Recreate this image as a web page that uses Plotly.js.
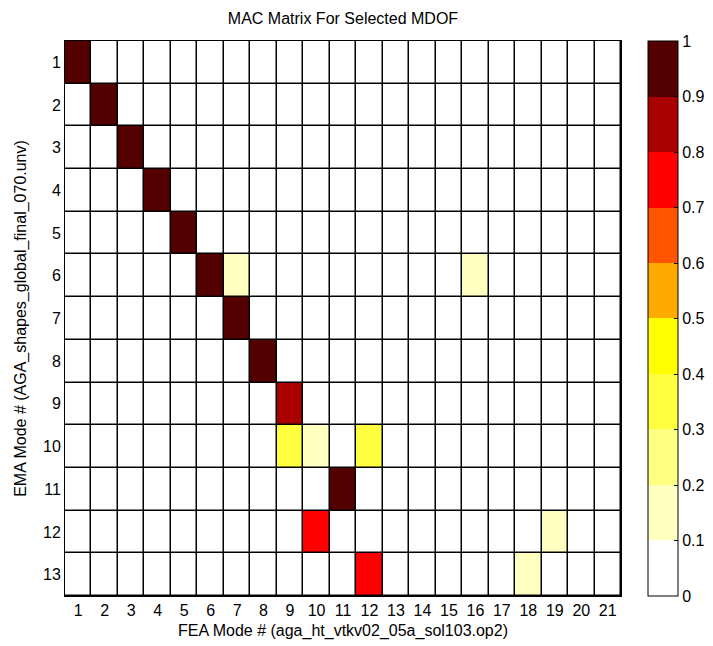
<!DOCTYPE html>
<html>
<head>
<meta charset="utf-8">
<script src="https://cdn.plot.ly/plotly-3.0.1.min.js"></script>
<style>html,body{margin:0;padding:0;background:#fff;}#chart{width:713px;height:646px;}</style>
</head>
<body>
<div id="chart"></div>
<script>
// FEA mode numbers (columns) and EMA mode numbers (rows)
const feaModes = [1,2,3,4,5,6,7,8,9,10,11,12,13,14,15,16,17,18,19,20,21];
const emaModes = [1,2,3,4,5,6,7,8,9,10,11,12,13];

// MAC values, one row per EMA mode, one column per FEA mode
const mac01 = [0.98,0,0,0,0,0,0,0,0,0,0,0,0,0,0,0,0,0,0,0,0];
const mac02 = [0,0.97,0,0,0,0,0,0,0,0,0,0,0,0,0,0,0,0,0,0,0];
const mac03 = [0,0,0.96,0,0,0,0,0,0,0,0,0,0,0,0,0,0,0,0,0,0];
const mac04 = [0,0,0,0.97,0,0,0,0,0,0,0,0,0,0,0,0,0,0,0,0,0];
const mac05 = [0,0,0,0,0.96,0,0,0,0,0,0,0,0,0,0,0,0,0,0,0,0];
const mac06 = [0,0,0,0,0,0.95,0.15,0,0,0,0,0,0,0,0,0.14,0,0,0,0,0];
const mac07 = [0,0,0,0,0,0,0.94,0,0,0,0,0,0,0,0,0,0,0,0,0,0];
const mac08 = [0,0,0,0,0,0,0,0.95,0,0,0,0,0,0,0,0,0,0,0,0,0];
const mac09 = [0,0,0,0,0,0,0,0,0.86,0,0,0,0,0,0,0,0,0,0,0,0];
const mac10 = [0,0,0,0,0,0,0,0,0.36,0.15,0,0.35,0,0,0,0,0,0,0,0,0];
const mac11 = [0,0,0,0,0,0,0,0,0,0,0.95,0,0,0,0,0,0,0,0,0,0];
const mac12 = [0,0,0,0,0,0,0,0,0,0.76,0,0,0,0,0,0,0,0,0.14,0,0];
const mac13 = [0,0,0,0,0,0,0,0,0,0,0,0.75,0,0,0,0,0,0.13,0,0,0];

const colorbarTicks = [0,0.1,0.2,0.3,0.4,0.5,0.6,0.7,0.8,0.9,1];
const colorbarTickText = ['0','0.1','0.2','0.3','0.4','0.5','0.6','0.7','0.8','0.9','1'];
const levelColors = ['#FFFFFF','#FFFFBF','#FFFF80','#FFFF40','#FFFF00','#FFAA00','#FF5500','#FF0000','#AA0000','#550000'];

const macMatrix = [mac01,mac02,mac03,mac04,mac05,mac06,mac07,mac08,mac09,mac10,mac11,mac12,mac13];

const colorscale = [];
levelColors.forEach((c, i) => {
  colorscale.push([i / levelColors.length, c]);
  colorscale.push([(i + 1) / levelColors.length, c]);
});

const font = {family: '"Liberation Sans", Arial, sans-serif', size: 16, color: '#000'};

const trace = {
  type: 'heatmap',
  x: feaModes,
  y: emaModes,
  z: macMatrix,
  zmin: 0,
  zmax: 1,
  colorscale: colorscale,
  xgap: 1.5,
  ygap: 1.5,
  hoverinfo: 'x+y+z',
  colorbar: {
    xref: 'container',
    x: 648 / 713,
    xanchor: 'left',
    xpad: 0,
    y: 0.5,
    yanchor: 'middle',
    len: 1,
    lenmode: 'fraction',
    ypad: 0,
    thickness: 30,
    thicknessmode: 'pixels',
    outlinewidth: 1,
    outlinecolor: '#000',
    tickmode: 'array',
    tickvals: colorbarTicks,
    ticktext: colorbarTickText,
    ticks: 'inside',
    ticklen: 4,
    tickcolor: '#000',
    tickfont: font
  }
};

const layout = {
  width: 713,
  height: 646,
  margin: {l: 65, r: 92, t: 41, b: 50},
  paper_bgcolor: '#fff',
  plot_bgcolor: '#000',
  font: font,
  title: {text: 'MAC Matrix For Selected MDOF', font: font, x: 343 / 713, xanchor: 'center', y: 0.972, yanchor: 'middle'},
  xaxis: {
    range: [0.5, 21.5],
    tickmode: 'array',
    tickvals: feaModes,
    ticktext: feaModes.map(String),
    showgrid: false,
    zeroline: false,
    showline: true,
    linecolor: '#000',
    linewidth: 1,
    mirror: true,
    ticks: '',
    tickfont: font,
    title: {text: 'FEA Mode # (aga_ht_vtkv02_05a_sol103.op2)', font: font, standoff: 6}
  },
  yaxis: {
    range: [13.5, 0.5],
    tickmode: 'array',
    tickvals: emaModes,
    ticktext: emaModes.map(String),
    showgrid: false,
    zeroline: false,
    showline: true,
    linecolor: '#000',
    linewidth: 1,
    mirror: true,
    ticks: '',
    tickfont: font,
    title: {text: 'EMA Mode # (AGA_shapes_global_final_070.unv)', font: font, standoff: 12}
  }
};

Plotly.newPlot('chart', [trace], layout, {displayModeBar: false, staticPlot: true});
</script>
</body>
</html>
